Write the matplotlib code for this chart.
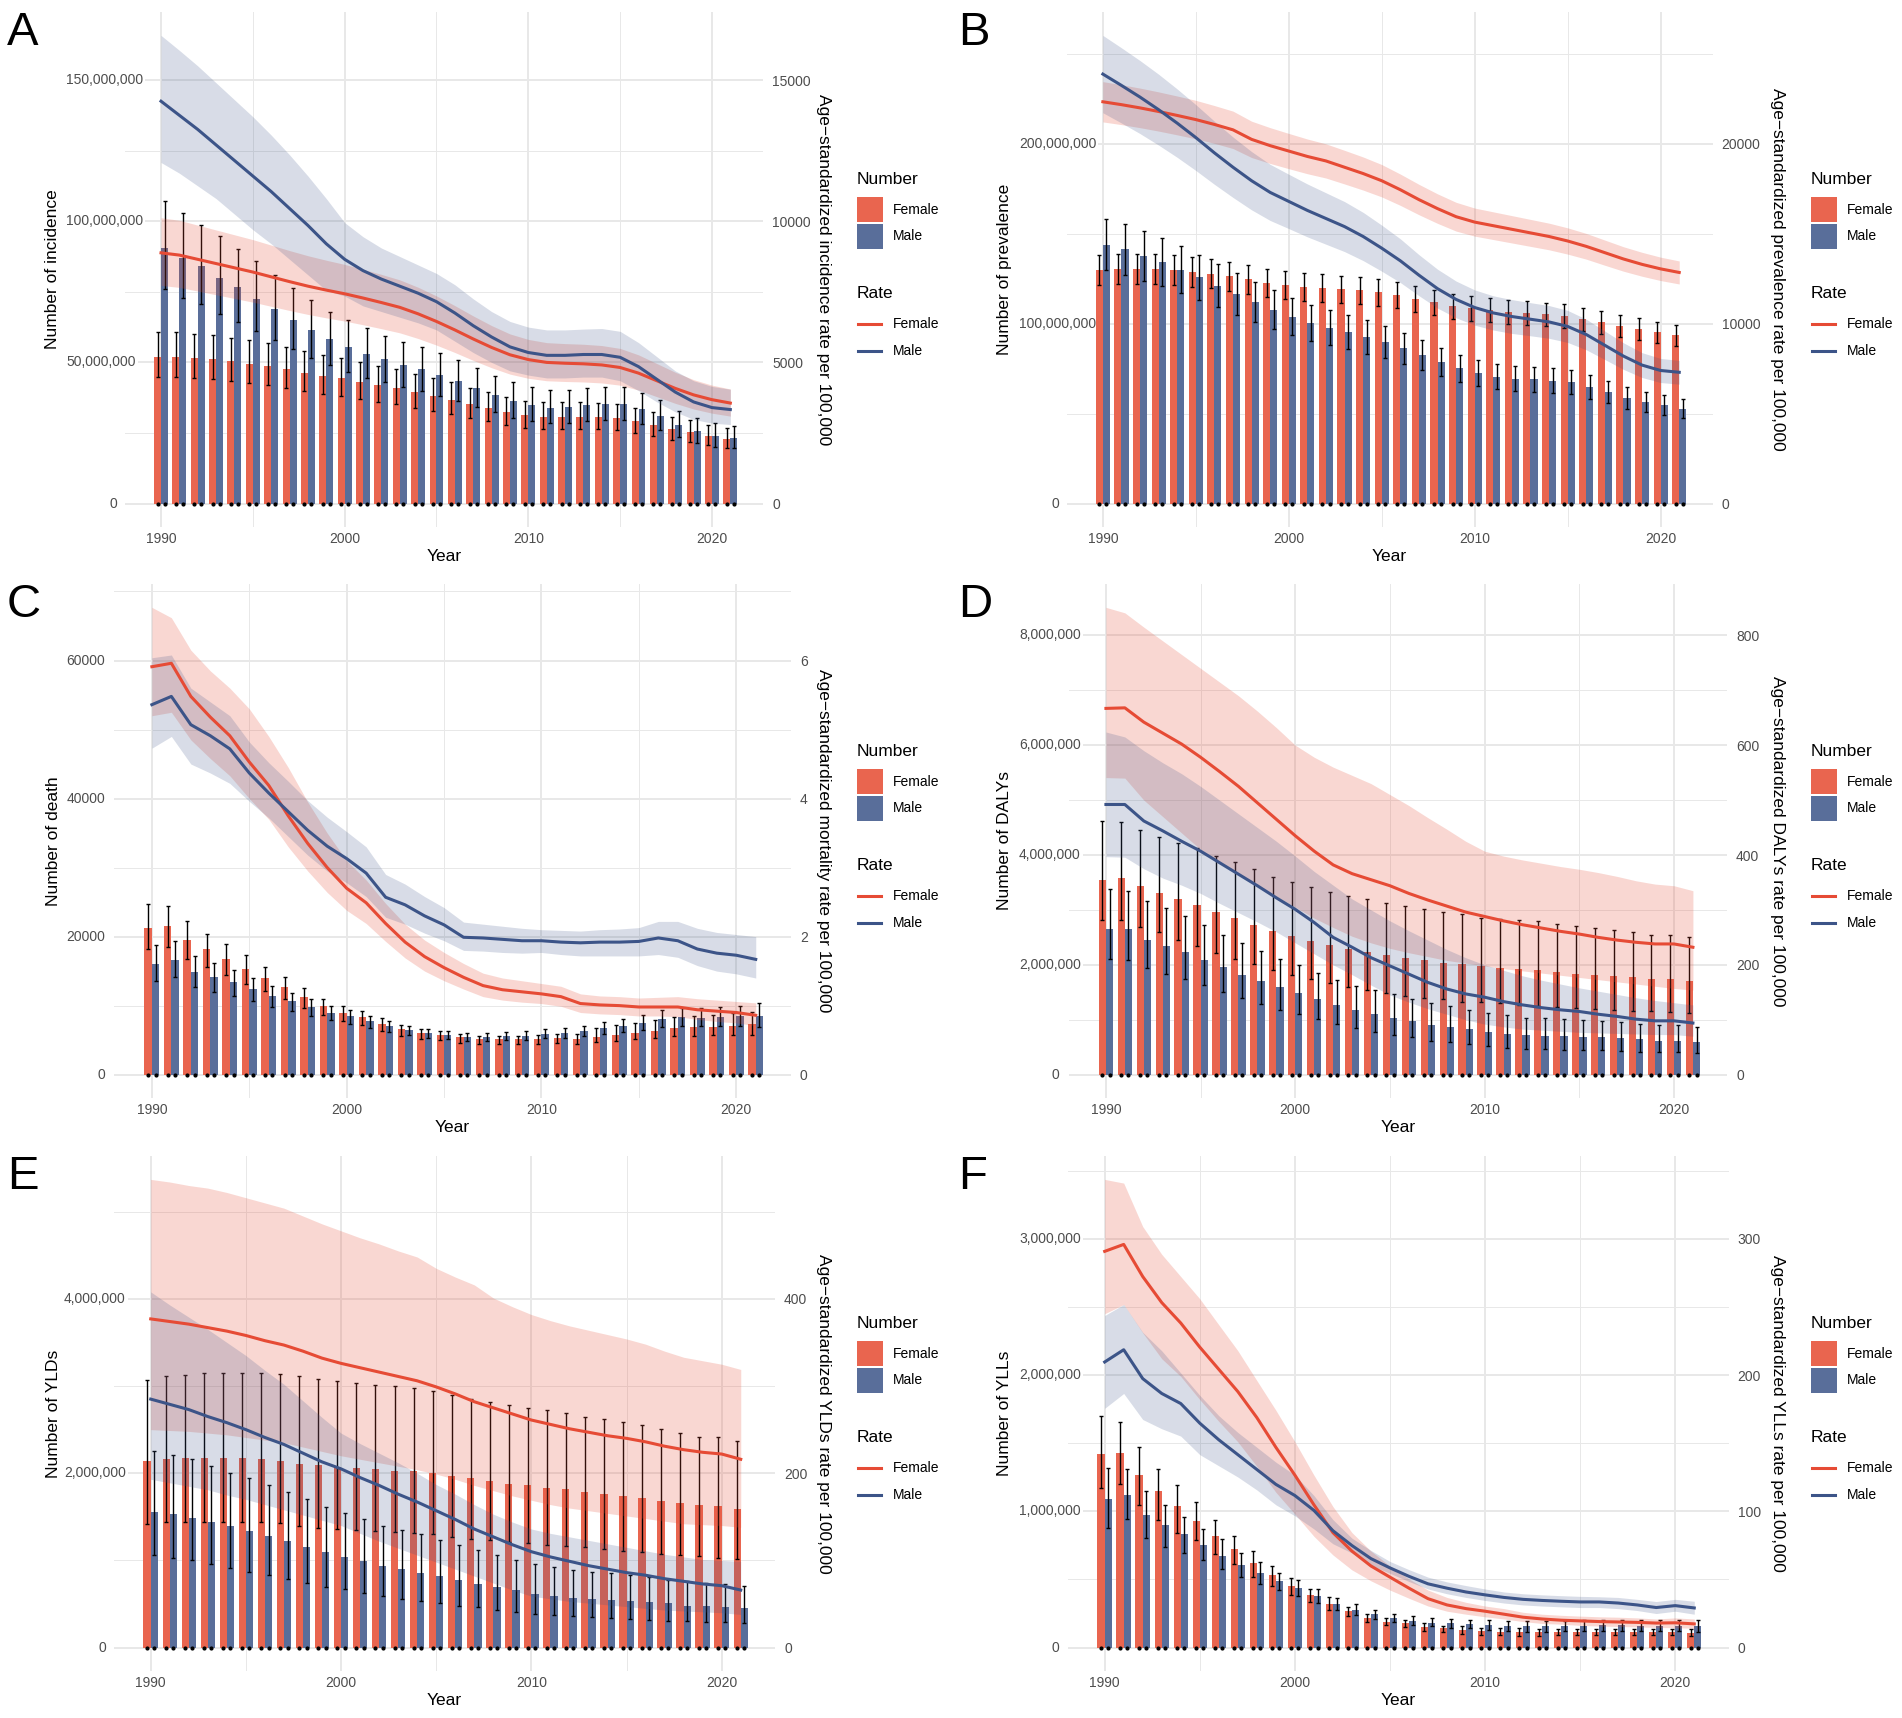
import matplotlib
matplotlib.use("Agg")
import matplotlib.pyplot as plt
import matplotlib.transforms as mtransforms
from matplotlib.patches import Rectangle
from matplotlib.lines import Line2D
from matplotlib.ticker import AutoMinorLocator
import numpy as np

plt.rcParams['font.family'] = ['Liberation Sans', 'DejaVu Sans']

years = list(range(1990, 2022))

# ---- A: incidence (bars in millions, rate per 100,000) ----
a_f = [52.0,52.0,51.6,51.2,50.4,49.6,48.7,47.6,46.3,45.1,44.3,43.2,42.0,40.8,39.5,38.2,36.8,35.3,33.8,32.5,31.2,30.7,30.7,30.7,30.6,30.3,29.2,27.9,26.3,25.3,23.9,23.0]
a_f_lo = [44.7,44.7,44.4,44.0,43.3,42.7,41.9,40.9,39.8,38.8,38.1,37.2,36.1,35.1,34.0,32.9,31.6,30.4,29.1,28.0,26.8,26.4,26.4,26.4,26.3,26.1,25.1,24.0,22.6,21.8,20.6,19.8]
a_f_hi = [60.6,60.6,60.1,59.6,58.7,57.8,56.7,55.5,53.9,52.5,51.6,50.3,48.9,47.5,46.0,44.5,42.9,41.1,39.4,37.9,36.3,35.8,35.8,35.8,35.6,35.3,34.0,32.5,30.6,29.5,27.8,26.8]
a_m = [90.4,86.8,84.0,80.0,76.6,72.6,69.0,65.0,61.6,58.3,55.4,53.0,51.2,49.2,47.5,45.4,43.3,40.8,38.4,36.2,34.9,34.0,34.2,34.9,35.3,35.1,33.5,30.9,28.0,25.7,24.1,23.4]
a_m_lo = [76.0,72.9,70.6,67.2,64.3,61.0,58.0,54.6,51.7,49.0,46.5,44.5,43.0,41.3,39.9,38.1,36.4,34.3,32.3,30.4,29.3,28.6,28.7,29.3,29.7,29.5,28.1,26.0,23.5,21.6,20.2,19.7]
a_m_hi = [107,103,98.6,94.6,90.1,85.8,80.9,76.3,72.0,68.0,65.1,62.1,59.5,57.2,55.5,53.3,50.7,48.0,45.1,43.0,41.2,40.1,40.1,40.8,41.4,41.2,39.3,36.6,32.9,30.3,28.6,27.6]
a_rf = [8880,8800,8650,8500,8350,8200,8030,7860,7700,7560,7430,7280,7120,6950,6720,6450,6150,5830,5530,5270,5100,5000,4970,4950,4910,4820,4620,4350,4080,3850,3680,3560]
a_rf_lo = [7726,7656,7526,7395,7265,7134,6986,6838,6699,6577,6464,6334,6194,6047,5846,5612,5351,5072,4811,4585,4437,4350,4324,4307,4272,4193,4019,3785,3550,3350,3202,3097]
a_rf_hi = [10123,10032,9861,9690,9519,9348,9154,8960,8778,8618,8470,8299,8117,7923,7661,7353,7011,6646,6304,6008,5814,5700,5666,5643,5597,5495,5267,4959,4651,4389,4195,4058]
a_rm = [14250,13750,13250,12700,12150,11600,11050,10450,9850,9200,8650,8250,7950,7700,7450,7150,6750,6300,5900,5550,5350,5250,5250,5280,5280,5180,4850,4400,3950,3600,3400,3330]
a_rm_lo = [12080,11700,11250,10800,10250,9700,9200,8650,8100,7550,7350,7000,6800,6600,6400,6150,5750,5350,5000,4700,4550,4450,4450,4480,4480,4350,4000,3600,3250,2980,2850,2800]
a_rm_hi = [16580,16050,15500,14900,14300,13700,13050,12350,11600,10800,9950,9450,9050,8750,8450,8150,7750,7250,6800,6450,6250,6150,6150,6180,6200,6100,5700,5200,4700,4350,4150,4050]

# ---- B: prevalence ----
b_f = [130.0,130.6,130.6,130.6,130.0,129.0,127.9,126.4,124.8,122.9,121.7,120.6,120.0,119.4,118.8,117.5,116.1,114.0,111.9,109.8,108.8,107.8,106.7,106.1,105.3,104.2,102.6,100.9,98.9,97.0,95.3,93.7]
b_f_lo = [121.6,122.1,122.1,122.1,121.6,120.6,119.6,118.2,116.7,114.9,113.8,112.8,112.2,111.6,111.1,109.9,108.6,106.6,104.6,102.7,101.7,100.8,99.8,99.2,98.5,97.4,95.9,94.3,92.5,90.7,89.1,87.6]
b_f_hi = [138.1,138.7,138.7,138.7,138.1,137.0,135.8,134.2,132.5,130.5,129.2,128.1,127.4,126.8,126.2,124.8,123.3,121.1,118.8,116.6,115.5,114.5,113.3,112.7,111.8,110.7,109.0,107.2,105.0,103.0,101.2,99.5]
b_m = [144.0,141.3,137.8,134.1,130.0,125.8,121.2,116.5,111.9,107.8,104.0,100.5,97.8,95.3,92.6,89.7,86.4,82.5,78.8,75.2,72.5,70.5,69.4,69.0,68.4,67.4,64.9,62.2,58.7,56.4,54.9,52.8]
b_m_lo = [129.6,127.2,124.0,120.7,117.0,113.2,109.1,104.9,100.7,97.0,93.6,90.5,88.0,85.8,83.3,80.7,77.8,74.3,70.9,67.7,65.3,63.5,62.5,62.1,61.6,60.7,58.4,56.0,52.8,50.8,49.4,47.5]
b_m_hi = [158.4,155.4,151.6,147.5,143.0,138.4,133.3,128.2,123.1,118.6,114.4,110.6,107.6,104.8,101.9,98.7,95.0,90.8,86.7,82.7,79.8,77.6,76.3,75.9,75.2,74.1,71.4,68.4,64.6,62.0,60.4,58.1]
b_rf = [22340,22180,22000,21800,21580,21350,21080,20780,20250,19900,19600,19300,19050,18700,18350,17950,17450,16900,16400,15950,15650,15450,15250,15050,14850,14600,14300,13950,13600,13300,13050,12850]
b_rf_lo = [21220,21070,20900,20710,20500,20280,20030,19740,19240,18910,18620,18340,18100,17770,17430,17050,16580,16060,15580,15150,14870,14680,14490,14300,14110,13870,13590,13250,12920,12640,12400,12210]
b_rf_hi = [23460,23290,23100,22890,22660,22420,22130,21820,21260,20900,20580,20270,20000,19640,19270,18850,18320,17750,17220,16750,16430,16220,16010,15800,15590,15330,15020,14650,14280,13970,13700,13490]
b_rm = [23880,23250,22600,21900,21150,20350,19500,18700,17950,17300,16800,16300,15850,15400,14850,14200,13500,12700,11950,11350,10900,10600,10400,10250,10100,9850,9400,8800,8200,7700,7400,7300]
b_rm_lo = [21730,21160,20570,19930,19250,18520,17750,17020,16330,15740,15290,14830,14420,14010,13510,12920,12290,11560,10870,10330,9920,9650,9460,9330,9190,8960,8550,8010,7460,7010,6730,6640]
b_rm_hi = [26030,25340,24630,23870,23050,22180,21260,20380,19570,18860,18310,17770,17280,16790,16190,15480,14720,13840,13030,12370,11880,11550,11340,11170,11010,10740,10250,9590,8940,8390,8070,7960]

# ---- C: death (bars in counts) ----
c_f = [21270,21540,19500,18150,16800,15350,14000,12660,11260,9970,9000,8300,7380,6570,6030,5760,5390,5120,5120,5120,5220,5330,5220,5490,5760,6030,6300,6730,6840,6950,7110,7270]
c_f_lo = [18260,18500,16800,15600,14450,13200,12050,10900,9700,8600,7750,7150,6350,5650,5200,4950,4650,4400,4400,4400,4500,4600,4500,4700,4900,5100,5300,5600,5650,5700,5800,5800]
c_f_hi = [24780,24400,22200,20400,18900,17300,15600,14100,12500,11000,9900,9150,8150,7250,6650,6350,5950,5650,5650,5650,5800,5950,5850,6800,7150,7500,7850,8400,8550,8700,8900,9100]
c_m = [16000,16650,14920,14110,13410,12390,11420,10610,9800,9000,8460,7760,7000,6460,6030,5760,5490,5490,5600,5660,5920,6030,6300,6730,7110,7540,8080,8300,8190,8300,8460,8560]
c_m_lo = [13570,14100,12700,12000,11450,10600,9800,9150,8500,7850,7400,6800,6150,5700,5350,5100,4880,4880,4980,5030,5250,5350,5550,5900,6200,6500,6950,7100,7000,7050,7050,6840]
c_m_hi = [18800,19300,17200,16200,15200,14000,12850,11850,10900,10000,9350,8550,7700,7100,6600,6300,6000,6000,6150,6250,6550,6700,7050,7600,8100,8700,9350,9700,9600,9750,10000,10450]
c_rf = [5.91,5.96,5.48,5.18,4.91,4.53,4.19,3.75,3.35,3.00,2.70,2.49,2.19,1.92,1.71,1.55,1.41,1.29,1.23,1.20,1.17,1.13,1.03,1.01,1.00,0.98,0.98,0.98,0.94,0.92,0.90,0.86]
c_rf_lo = [5.20,5.25,4.85,4.58,4.33,4.00,3.70,3.30,2.95,2.64,2.38,2.19,1.93,1.69,1.50,1.36,1.24,1.13,1.08,1.05,1.03,0.99,0.90,0.88,0.87,0.85,0.85,0.84,0.80,0.77,0.75,0.71]
c_rf_hi = [6.77,6.62,6.15,5.85,5.60,5.30,4.90,4.45,3.95,3.50,3.10,2.82,2.48,2.18,1.95,1.77,1.61,1.47,1.40,1.36,1.32,1.28,1.17,1.14,1.13,1.11,1.12,1.13,1.10,1.08,1.06,1.04]
c_rm = [5.36,5.48,5.07,4.91,4.72,4.37,4.08,3.81,3.54,3.31,3.13,2.92,2.57,2.46,2.30,2.17,1.99,1.98,1.96,1.94,1.94,1.92,1.91,1.92,1.92,1.93,1.98,1.94,1.82,1.76,1.73,1.67]
c_rm_lo = [4.73,4.90,4.50,4.37,4.22,3.96,3.72,3.45,3.18,2.95,2.78,2.58,2.28,2.18,2.05,1.94,1.80,1.79,1.77,1.76,1.77,1.74,1.72,1.72,1.72,1.72,1.74,1.70,1.58,1.50,1.46,1.40]
c_rm_hi = [6.04,6.08,5.60,5.40,5.20,4.82,4.52,4.25,3.97,3.73,3.52,3.30,2.90,2.76,2.58,2.42,2.21,2.18,2.15,2.12,2.10,2.09,2.08,2.10,2.11,2.13,2.22,2.22,2.12,2.06,2.03,2.00]

# ---- D: DALYs (bars in millions) ----
d_f = [3.55,3.58,3.43,3.31,3.20,3.09,2.97,2.86,2.73,2.62,2.52,2.44,2.36,2.29,2.24,2.18,2.13,2.08,2.04,2.01,1.98,1.94,1.92,1.90,1.87,1.84,1.82,1.79,1.77,1.74,1.74,1.71]
d_f_lo = [2.82,2.82,2.69,2.59,2.46,2.35,2.21,2.11,2.01,1.91,1.81,1.74,1.67,1.60,1.54,1.48,1.43,1.40,1.37,1.33,1.32,1.30,1.27,1.25,1.23,1.22,1.20,1.18,1.16,1.15,1.14,1.13]
d_f_hi = [4.62,4.60,4.45,4.32,4.22,4.12,3.99,3.88,3.74,3.60,3.50,3.41,3.33,3.25,3.19,3.13,3.08,3.01,2.97,2.92,2.86,2.84,2.81,2.79,2.74,2.71,2.67,2.64,2.59,2.55,2.54,2.50]
d_m = [2.65,2.65,2.46,2.34,2.23,2.09,1.96,1.82,1.71,1.59,1.48,1.37,1.27,1.18,1.10,1.03,0.97,0.91,0.86,0.83,0.78,0.74,0.72,0.71,0.70,0.69,0.68,0.67,0.64,0.62,0.62,0.60]
d_m_lo = [2.11,2.09,1.94,1.84,1.74,1.64,1.50,1.40,1.28,1.18,1.10,1.01,0.93,0.85,0.78,0.72,0.68,0.62,0.59,0.55,0.52,0.49,0.47,0.47,0.45,0.45,0.44,0.43,0.42,0.41,0.41,0.39]
d_m_hi = [3.38,3.34,3.16,3.04,2.88,2.72,2.55,2.40,2.26,2.10,1.99,1.86,1.73,1.62,1.54,1.46,1.38,1.31,1.25,1.18,1.13,1.08,1.04,1.03,1.02,0.99,0.97,0.95,0.93,0.91,0.91,0.86]
d_rf = [667,668,642,622,602,578,552,525,495,465,435,407,382,366,355,344,330,318,307,296,288,280,273,267,261,256,250,245,241,238,238,232]
d_rf_lo = [541,540,500,470,440,410,385,365,345,325,305,285,268,252,240,230,222,215,208,203,198,193,189,185,181,177,173,169,165,161,157,154]
d_rf_hi = [851,841,815,790,765,740,715,690,662,632,600,578,560,545,530,510,490,468,447,425,407,398,391,385,379,374,368,361,353,347,344,335]
d_rm = [492,492,462,444,425,407,386,365,344,322,301,277,250,232,213,198,183,168,156,147,141,133,127,122,118,115,110,106,101,98,98,94]
d_rm_lo = [397,396,375,358,345,330,312,295,278,260,240,220,200,182,163,145,132,120,110,100,92,87,83,81,79,77,76,75,74,73,73,70]
d_rm_hi = [624,615,590,568,548,525,500,475,450,425,398,370,345,320,300,280,262,245,228,213,200,190,180,172,165,158,152,146,140,135,131,127]

# ---- E: YLDs (bars in millions) ----
e_f = [2.14,2.16,2.17,2.17,2.17,2.17,2.16,2.14,2.11,2.09,2.07,2.06,2.05,2.03,2.02,2.00,1.97,1.94,1.91,1.88,1.86,1.83,1.82,1.79,1.76,1.74,1.72,1.68,1.66,1.63,1.62,1.59]
e_f_lo = [1.42,1.44,1.44,1.44,1.44,1.44,1.44,1.43,1.40,1.37,1.36,1.35,1.34,1.33,1.31,1.30,1.27,1.25,1.23,1.21,1.20,1.18,1.17,1.15,1.13,1.11,1.10,1.07,1.06,1.05,1.03,1.02]
e_f_hi = [3.07,3.11,3.13,3.15,3.15,3.15,3.15,3.14,3.12,3.08,3.06,3.04,3.01,3.00,2.98,2.94,2.90,2.85,2.82,2.78,2.75,2.72,2.69,2.65,2.62,2.59,2.55,2.51,2.46,2.42,2.42,2.37]
e_m = [1.56,1.53,1.49,1.44,1.39,1.34,1.28,1.22,1.15,1.10,1.04,0.99,0.94,0.90,0.86,0.82,0.77,0.73,0.69,0.66,0.62,0.59,0.57,0.56,0.55,0.54,0.52,0.51,0.48,0.48,0.47,0.45]
e_m_lo = [1.06,1.03,1.00,0.96,0.91,0.87,0.83,0.79,0.74,0.70,0.67,0.63,0.59,0.56,0.54,0.51,0.48,0.46,0.43,0.41,0.39,0.37,0.36,0.35,0.34,0.33,0.32,0.31,0.30,0.29,0.29,0.28]
e_m_hi = [2.26,2.21,2.16,2.08,2.00,1.94,1.87,1.79,1.71,1.61,1.54,1.47,1.40,1.35,1.30,1.23,1.18,1.12,1.06,1.01,0.96,0.93,0.89,0.87,0.85,0.83,0.81,0.78,0.76,0.74,0.73,0.71]
e_rf = [377,374,371,367,363,358,352,347,340,332,326,321,316,311,306,299,291,282,275,268,261,256,251,247,243,240,236,231,227,224,222,216]
e_rf_lo = [250,249,248,246,244,241,238,235,230,225,220,216,212,208,204,199,193,186,180,174,169,164,160,157,154,151,148,145,142,141,140,138]
e_rf_hi = [537,534,530,527,522,516,510,504,495,486,478,470,463,455,448,435,425,416,401,391,382,375,369,364,359,354,348,340,333,329,325,319]
e_rm = [285,279,273,265,258,250,241,233,223,213,205,195,186,176,167,157,147,136,127,118,110,104,99,94,90,86,83,79,76,73,71,66]
e_rm_lo = [193,189,185,181,175,170,164,158,152,146,140,131,122,114,106,98,90,82,74,66,59,56,53,51,49,47,45,43,42,41,40,38]
e_rm_hi = [408,393,379,365,350,335,318,302,283,264,246,234,223,212,200,187,176,164,153,144,136,131,127,123,119,115,111,107,104,101,100,99]

# ---- F: YLLs (bars in millions) ----
f_f = [1.421,1.427,1.266,1.149,1.040,0.926,0.822,0.721,0.621,0.531,0.449,0.387,0.321,0.267,0.218,0.191,0.177,0.150,0.142,0.131,0.123,0.117,0.114,0.112,0.114,0.114,0.114,0.117,0.117,0.114,0.114,0.109]
f_f_lo = [1.170,1.200,1.050,0.940,0.840,0.790,0.690,0.610,0.520,0.450,0.387,0.332,0.278,0.231,0.191,0.163,0.150,0.123,0.114,0.103,0.095,0.090,0.087,0.087,0.089,0.089,0.089,0.091,0.091,0.089,0.089,0.085]
f_f_hi = [1.700,1.655,1.470,1.310,1.190,1.070,0.940,0.820,0.710,0.600,0.510,0.430,0.370,0.300,0.250,0.220,0.200,0.180,0.160,0.155,0.147,0.142,0.142,0.136,0.138,0.138,0.138,0.140,0.140,0.138,0.138,0.134]
f_m = [1.089,1.122,0.975,0.898,0.836,0.754,0.675,0.604,0.545,0.490,0.436,0.381,0.321,0.278,0.245,0.218,0.196,0.182,0.177,0.172,0.163,0.158,0.155,0.155,0.158,0.161,0.163,0.163,0.161,0.161,0.161,0.158]
f_m_lo = [0.877,0.947,0.803,0.740,0.694,0.640,0.577,0.517,0.468,0.422,0.376,0.327,0.278,0.240,0.212,0.191,0.169,0.155,0.147,0.142,0.131,0.123,0.117,0.117,0.119,0.121,0.123,0.123,0.121,0.121,0.121,0.117]
f_m_hi = [1.320,1.310,1.150,1.050,0.960,0.870,0.795,0.694,0.626,0.550,0.495,0.427,0.362,0.321,0.278,0.250,0.231,0.218,0.210,0.204,0.199,0.196,0.196,0.196,0.198,0.200,0.202,0.202,0.200,0.200,0.200,0.200]
f_rf = [290.8,295.9,272.3,253.2,238.2,220.5,204.2,187.9,168.8,147.0,126.6,104.8,84.4,70.8,59.9,51.7,43.6,35.9,31.3,28.6,26.7,24.5,22.3,21.0,20.1,19.6,19.1,18.8,18.5,18.0,18.2,17.4]
f_rf_lo = [245.0,251.8,231.0,212.0,199.0,182.0,166.0,151.0,133.0,114.0,98.0,81.7,68.0,57.0,49.0,42.2,36.2,30.5,26.7,24.5,22.6,21.0,19.1,17.7,17.2,16.3,15.8,15.5,15.2,14.8,14.6,14.2]
f_rf_hi = [343.6,340.9,309.0,288.6,272.3,256.0,236.9,217.9,196.0,174.2,151.1,126.6,103.5,84.4,70.8,59.9,50.4,42.2,36.8,33.2,30.5,28.6,25.9,24.5,23.7,23.1,22.6,22.3,21.8,21.0,21.8,21.0]
f_rm = [209.6,218.6,197.4,186.5,179.1,164.7,152.5,141.6,130.7,119.8,111.6,100.7,85.8,74.9,65.3,58.5,52.3,46.8,43.6,40.8,38.7,36.8,35.4,34.6,34.0,33.5,33.5,32.7,31.3,29.4,30.8,29.1]
f_rm_lo = [175.6,186.5,167.4,160.6,155.2,141.6,133.4,125.2,115.7,104.8,96.7,87.1,76.2,69.4,60.4,54.5,48.5,43.0,39.5,36.8,34.6,32.7,31.3,30.5,29.9,29.4,29.4,28.6,27.2,25.0,26.7,24.5]
f_rm_hi = [243.7,251.8,231.4,217.8,201.5,185.1,170.2,157.9,147.0,136.1,126.6,111.6,93.9,80.3,71.3,63.2,57.2,51.7,48.2,45.5,43.0,40.8,39.5,38.7,38.1,37.6,37.3,36.8,35.4,33.8,35.4,34.0]

# tick labels
a_lticks = ['0', '50,000,000', '100,000,000', '150,000,000']
a_rticks = [0, 5000, 10000, 15000]
b_lticks = ['0', '100,000,000', '200,000,000']
b_rticks = [0, 10000, 20000]
c_lticks = ['0', '20000', '40000', '60000']
c_rticks = [0, 2, 4, 6]
d_lticks = ['0', '2,000,000', '4,000,000', '6,000,000', '8,000,000']
d_rticks = [0, 200, 400, 600, 800]
e_lticks = ['0', '2,000,000', '4,000,000']
e_rticks = [0, 200, 400]
f_lticks = ['0', '1,000,000', '2,000,000', '3,000,000']
f_rticks = [0, 100, 200, 300]

RATE_SCALE = 10000  # secondary axis: rate * 10000 = number
W, H = 1902, 1718
F_BAR, M_BAR = '#E9654F', '#596E9A'
F_LINE, M_LINE = '#E64B35', '#3C5488'
TICK = '#4D4D4D'
GRID = '#E8E8E8'
ROWS = [(12, 527), (584, 1098), (1156, 1671)]

panels = [
    dict(letter='A', row=0, col=0, xr=(125.2, 763.4), unit=1e6, lab=(66, 117),
         bars=(a_f, a_f_lo, a_f_hi, a_m, a_m_lo, a_m_hi),
         rates=(a_rf, a_rf_lo, a_rf_hi, a_rm, a_rm_lo, a_rm_hi),
         lt=a_lticks, rt=a_rticks, ylab='Number of incidence',
         rlab='Age\u2212standardized incidence rate per 100,000'),
    dict(letter='B', row=0, col=1, xr=(1066.6, 1712.7), unit=1e6, lab=(1019, 1059),
         bars=(b_f, b_f_lo, b_f_hi, b_m, b_m_lo, b_m_hi),
         rates=(b_rf, b_rf_lo, b_rf_hi, b_rm, b_rm_lo, b_rm_hi),
         lt=b_lticks, rt=b_rticks, ylab='Number of prevalence',
         rlab='Age\u2212standardized prevalence rate per 100,000'),
    dict(letter='C', row=1, col=0, xr=(113.9, 790.8), unit=1, lab=(64, 105),
         bars=(c_f, c_f_lo, c_f_hi, c_m, c_m_lo, c_m_hi),
         rates=(c_rf, c_rf_lo, c_rf_hi, c_rm, c_rm_lo, c_rm_hi),
         lt=c_lticks, rt=c_rticks, ylab='Number of death',
         rlab='Age\u2212standardized mortality rate per 100,000'),
    dict(letter='D', row=1, col=1, xr=(1069.0, 1727.0), unit=1e6, lab=(1019, 1059),
         bars=(d_f, d_f_lo, d_f_hi, d_m, d_m_lo, d_m_hi),
         rates=(d_rf, d_rf_lo, d_rf_hi, d_rm, d_rm_lo, d_rm_hi),
         lt=d_lticks, rt=d_rticks, ylab='Number of DALYs',
         rlab='Age\u2212standardized DALYs rate per 100,000'),
    dict(letter='E', row=2, col=0, xr=(113.6, 775.0), unit=1e6, lab=(64, 106),
         bars=(e_f, e_f_lo, e_f_hi, e_m, e_m_lo, e_m_hi),
         rates=(e_rf, e_rf_lo, e_rf_hi, e_rm, e_rm_lo, e_rm_hi),
         lt=e_lticks, rt=e_rticks, ylab='Number of YLDs',
         rlab='Age\u2212standardized YLDs rate per 100,000'),
    dict(letter='F', row=2, col=1, xr=(1067.6, 1728.5), unit=1e6, lab=(1019, 1059),
         bars=(f_f, f_f_lo, f_f_hi, f_m, f_m_lo, f_m_hi),
         rates=(f_rf, f_rf_lo, f_rf_hi, f_rm, f_rm_lo, f_rm_hi),
         lt=f_lticks, rt=f_rticks, ylab='Number of YLLs',
         rlab='Age\u2212standardized YLLs rate per 100,000'),
]

fig = plt.figure(figsize=(W / 100, H / 100), dpi=100)
renderer = fig.canvas.get_renderer()
x = np.array(years)
bw = 0.38


def fx(px):
    return px / W


def fy(py):
    return 1 - py / H


for p in panels:
    top, bot = ROWS[p['row']]
    l, r = p['xr']
    ax = fig.add_axes([fx(l), fy(bot), (r - l) / W, (bot - top) / H])
    f, flo, fhi, m, mlo, mhi = [np.array(v) * p['unit'] for v in p['bars']]
    rf, rflo, rfhi, rm, rmlo, rmhi = [np.array(v) * RATE_SCALE for v in p['rates']]

    ax.bar(x - bw / 2, f, bw, color=F_BAR, zorder=2)
    ax.bar(x + bw / 2, m, bw, color=M_BAR, zorder=2)
    ax.errorbar(x - bw / 2, f, yerr=[f - flo, fhi - f], fmt='none', ecolor='black',
                elinewidth=1.0, capsize=1.3, capthick=1.0, zorder=3)
    ax.errorbar(x + bw / 2, m, yerr=[m - mlo, mhi - m], fmt='none', ecolor='black',
                elinewidth=1.0, capsize=1.3, capthick=1.0, zorder=3)
    ax.plot(np.r_[x - bw / 2, x + bw / 2], np.zeros(2 * len(x)), 'o', ms=2.0,
            color='black', zorder=3, clip_on=False)

    ax.fill_between(x, rflo, rfhi, color=F_LINE, alpha=0.22, lw=0, zorder=4)
    ax.fill_between(x, rmlo, rmhi, color=M_LINE, alpha=0.2, lw=0, zorder=4)
    ax.plot(x, rf, color=F_LINE, lw=2.2, zorder=5)
    ax.plot(x, rm, color=M_LINE, lw=2.2, zorder=5)

    ymax = max(fhi.max(), mhi.max(), rfhi.max(), rmhi.max())
    ax.set_ylim(-0.05 * ymax, 1.05 * ymax)
    ax.set_xlim(1988.05, 2022.8)

    left_vals = [t * RATE_SCALE for t in p['rt']]
    ax.set_yticks(left_vals)
    ax.yaxis.set_minor_locator(AutoMinorLocator(2))
    ax.set_xticks([1990, 2000, 2010, 2020])
    ax.set_xticks([1995, 2005, 2015], minor=True)
    ax.set_axisbelow(True)
    ax.grid(True, which='major', color=GRID, lw=1.4, zorder=0)
    ax.grid(True, which='minor', color=GRID, lw=0.7, zorder=0)
    ax.tick_params(axis='x', which='both', length=0, pad=3.5, labelsize=10, labelcolor=TICK)
    ax.tick_params(axis='y', which='both', length=0, labelleft=False)
    for s in ax.spines.values():
        s.set_visible(False)
    ax.set_xlabel('Year', fontsize=12.5, labelpad=2)

    # left tick labels drawn by hand so they can spill into the panel like the original;
    # kept under the bars so a white backing only hides the grid line
    trans = mtransforms.blended_transform_factory(fig.transFigure, ax.transData)
    start, min_right = p['lab']
    for v, s in zip(left_vals, p['lt']):
        t = ax.text(fx(start), v, s, transform=trans, ha='left', va='center',
                    fontsize=10, color=TICK, clip_on=False, zorder=1.5,
                    bbox=dict(facecolor='white', edgecolor='none', pad=1.5))
        bb = t.get_window_extent(renderer=renderer)
        if bb.x1 < min_right:
            t.set_ha('right')
            t.set_x(fx(min_right))

    ax2 = ax.twinx()
    ax2.set_ylim(-0.05 * ymax / RATE_SCALE, 1.05 * ymax / RATE_SCALE)
    ax2.set_yticks(p['rt'])
    ax2.set_yticklabels([str(t) for t in p['rt']])
    ax2.tick_params(axis='y', length=0, pad=6.5, labelsize=10, labelcolor=TICK)
    for s in ax2.spines.values():
        s.set_visible(False)

    cx = 951 * p['col']
    ymid = fy((top + bot) / 2)
    fig.text(fx(cx + 53), ymid, p['ylab'], rotation=90, ha='center', va='center', fontsize=12.5)
    fig.text(fx(cx + 824 + 2 * p['col']), ymid, p['rlab'], rotation=-90, ha='center',
             va='center', fontsize=12.5)
    fig.text(fx(cx + 7), fy(top - 1), p['letter'], fontsize=34, ha='left', va='top')

    # legend
    lx = 857 + 954 * p['col']
    fig.text(fx(lx), fy(top + 168), 'Number', fontsize=12.5, ha='left', va='center')
    for (yk, col, name) in [(185, F_BAR, 'Female'), (212, M_BAR, 'Male')]:
        fig.add_artist(Rectangle((fx(lx), fy(top + yk + 25)), 26 / W, 25 / H,
                                 transform=fig.transFigure, facecolor=col, edgecolor='none'))
        fig.text(fx(lx + 36), fy(top + yk + 12.5), name, fontsize=10, ha='left', va='center')
    fig.text(fx(lx), fy(top + 282), 'Rate', fontsize=12.5, ha='left', va='center')
    for (yk, col, name) in [(312, F_LINE, 'Female'), (339, M_LINE, 'Male')]:
        fig.add_artist(Line2D([fx(lx + 1), fx(lx + 24)], [fy(top + yk)] * 2,
                              transform=fig.transFigure, color=col, lw=2.2))
        fig.text(fx(lx + 36), fy(top + yk), name, fontsize=10, ha='left', va='center')

fig.savefig('out.png', dpi=100, facecolor='white')
